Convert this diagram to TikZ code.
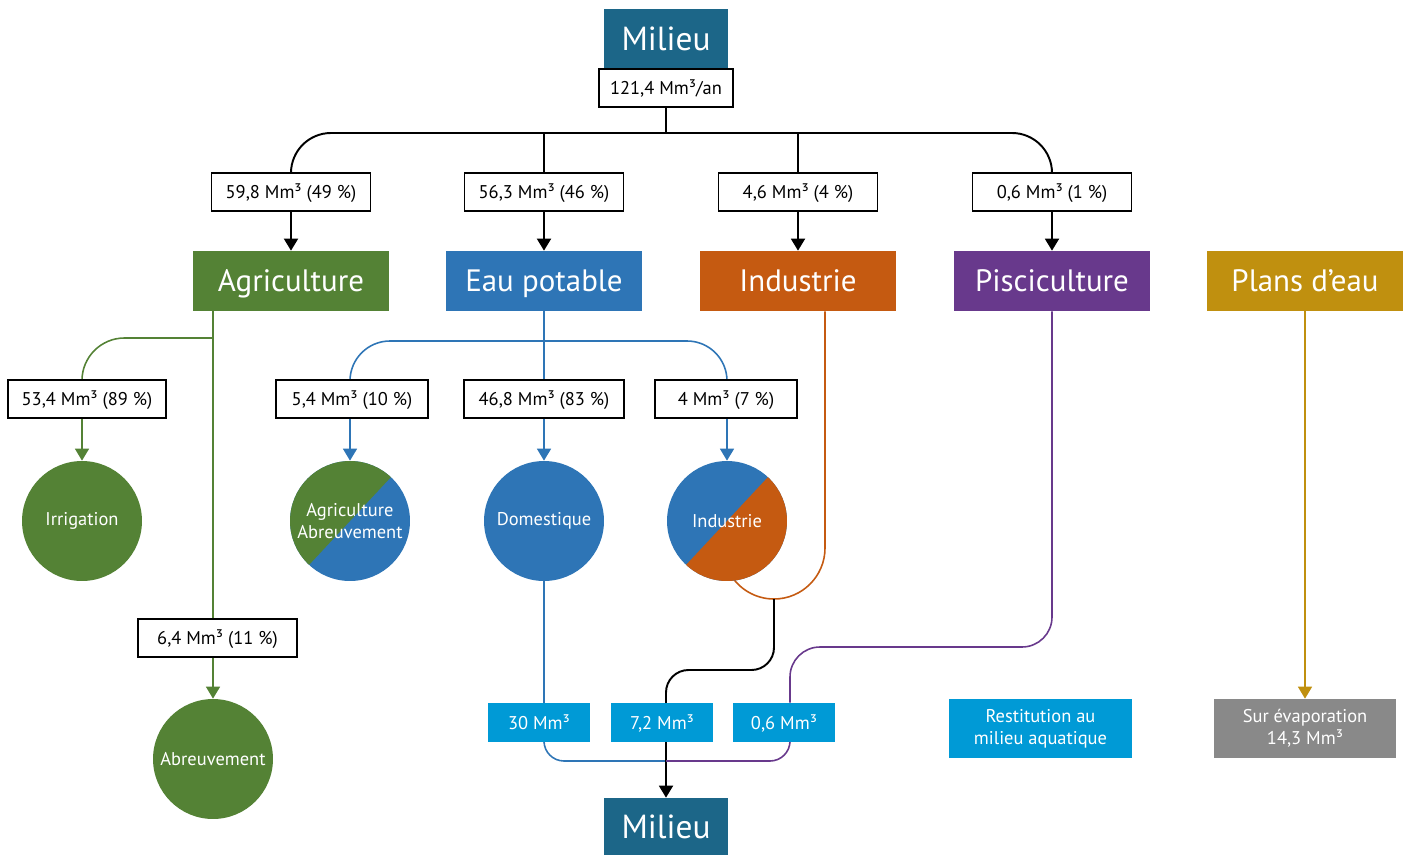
\documentclass[tikz,border=0pt]{standalone}
\usepackage{fontspec}
\setmainfont{PT Sans}
\usetikzlibrary{arrows.meta,backgrounds}
\definecolor{milieu}{HTML}{1C6688}
\definecolor{agrg}{HTML}{548235}
\definecolor{eaub}{HTML}{2E75B6}
\definecolor{indo}{HTML}{C55A11}
\definecolor{pisp}{HTML}{68398C}
\definecolor{plang}{HTML}{C0900F}
\definecolor{cyanb}{HTML}{009AD6}
\definecolor{greyb}{HTML}{898989}
\tikzset{
  lbl/.style={draw=black, line width=1.1pt, fill=white, minimum height=0.76cm, inner sep=0pt, text height=7.4pt, text depth=0pt, font=\fontsize{10.5}{12}\selectfont},
  catbox/.style={fill=#1, text=white, minimum width=3.94cm, minimum height=1.2cm, inner sep=0pt, text height=12.4pt, text depth=0pt, font=\fontsize{17.6}{20}\selectfont},
  disc/.style={circle, fill=#1, minimum size=2.4cm, inner sep=0pt, text=white, align=center, font=\fontsize{10.5}{12.5}\selectfont},
  volbox/.style={fill=cyanb, text=white, minimum width=2.04cm, minimum height=0.78cm, inner sep=0pt, text height=7.4pt, text depth=0pt, font=\fontsize{10.5}{12}\selectfont},
  infobox/.style={fill=#1, text=white, minimum width=3.66cm, minimum height=1.18cm, inner sep=0pt, align=center, font=\fontsize{10.5}{12.5}\selectfont},
  milbox/.style={fill=milieu, text=white, minimum width=2.5cm, inner sep=0pt, text height=13.3pt, text depth=0pt, font=\fontsize{19}{22}\selectfont},
  tip/.style={-{Triangle[width=0.28cm,length=0.24cm]}},
  blk/.style={draw=black, line width=1.1pt},
  col/.style={draw=#1, line width=0.9pt},
}
\begin{document}
\begin{tikzpicture}[x=0.02cm,y=-0.02cm]
\useasboundingbox (0,0) rectangle (1413,855);
% top
\node[milbox, minimum height=1.2cm] (milieuTop) at (666,39) {Milieu};
\node[lbl, minimum width=2.68cm] (total) at (666,88) {121,4 Mm³/an};
\coordinate (hub) at (666,133);
\node[lbl, minimum width=3.18cm] (l1) at (291,192) {59,8 Mm³ (49 \%)};
\node[lbl, minimum width=3.18cm] (l2) at (544,192) {56,3 Mm³ (46 \%)};
\node[lbl, minimum width=3.18cm] (l3) at (798,192) {4,6 Mm³ (4 \%)};
\node[lbl, minimum width=3.18cm] (l4) at (1052,192) {0,6 Mm³ (1 \%)};
% categories
\node[catbox=agrg] (agr) at (291,281) {Agriculture};
\node[catbox=eaub] (eau) at (544,281) {Eau potable};
\node[catbox=indo] (ind) at (798,281) {Industrie};
\node[catbox=pisp] (pis) at (1052,281) {Pisciculture};
\node[catbox=plang] (plans) at (1305,281) {Plans d’eau};
% agriculture branch
\coordinate (gj) at (213,338);
\node[lbl, minimum width=3.16cm] (la1) at (87,399) {53,4 Mm³ (89 \%)};
\node[lbl, minimum width=3.18cm] (la2) at (217.5,638) {6,4 Mm³ (11 \%)};
\node[disc=agrg] (irrig) at (82,521) {Irrigation};
\node[disc=agrg] (abreu) at (213,759) {Abreuvement};
% eau potable branch
\coordinate (bj) at (544,341);
\node[lbl, minimum width=3.04cm] (le1) at (352,399) {5,4 Mm³ (10 \%)};
\node[lbl, minimum width=3.2cm] (le2) at (544,399) {46,8 Mm³ (83 \%)};
\node[lbl, minimum width=2.84cm] (le3) at (726,399) {4 Mm³ (7 \%)};
\node[disc=eaub, path picture={\fill[agrg] (path picture bounding box.center) ++(47:1.3cm) arc[start angle=47, end angle=227, radius=1.3cm] -- cycle;}] (agriab) at (350,521) {Agriculture\\Abreuvement};
\node[disc=eaub] (domest) at (544,521) {Domestique};
\node[disc=eaub, path picture={\fill[indo] (path picture bounding box.center) ++(47:1.3cm) arc[start angle=47, end angle=-133, radius=1.3cm] -- cycle;}] (indc) at (727,521) {Industrie};
% returns
\node[volbox] (r30) at (539,722.5) {30 Mm³};
\node[volbox] (r72) at (662,722.5) {7,2 Mm³};
\node[volbox] (r06) at (784,722.5) {0,6 Mm³};
\node[milbox, minimum height=1.14cm] (milieuBot) at (666,826.5) {Milieu};
\node[infobox=cyanb] (restit) at (1040.5,728.5) {Restitution au\\milieu aquatique};
\node[infobox=greyb] (evap) at (1305,728.5) {Sur évaporation\\14,3 Mm³};
\coordinate (oc) at (825,0);
\coordinate (ob) at (774,599);
\coordinate (kj) at (666,670);
\coordinate (bb) at (666,761);
\coordinate (pc) at (790,0);
\coordinate (pk) at (790,647);
\begin{pgfonlayer}{background}
% black top tree
\draw[blk] (total.south) -- (hub);
\draw[blk, rounded corners=0.8cm] (l1.north) |- (hub) -| (l4.north);
\draw[blk] (l2.north) -- (l2.north |- hub);
\draw[blk] (l3.north) -- (l3.north |- hub);
\draw[blk, tip] (l1.south) -- (agr.north);
\draw[blk, tip] (l2.south) -- (eau.north);
\draw[blk, tip] (l3.south) -- (ind.north);
\draw[blk, tip] (l4.south) -- (pis.north);
% green
\draw[col=agrg] (agr.south -| abreu) -- (la2.north -| abreu);
\draw[col=agrg, rounded corners=0.85cm] (gj) -| (la1.north -| irrig);
\draw[col=agrg, tip] (la1.south -| irrig) -- (irrig.north);
\draw[col=agrg, tip] (la2.south -| abreu) -- (abreu.north);
% blue
\draw[col=eaub] (eau.south) -- (le2.north);
\draw[col=eaub, rounded corners=0.8cm] (le1.north -| agriab) |- (bj) -| (le3.north -| indc);
\draw[col=eaub, tip] (le1.south -| agriab) -- (agriab.north);
\draw[col=eaub, tip] (le2.south) -- (domest.north);
\draw[col=eaub, tip] (le3.south -| indc) -- (indc.north);
\draw[col=eaub] (domest.south) -- (r30.north -| domest);
\draw[col=eaub, rounded corners=0.4cm] (r30.south -| domest) |- (bb);
% orange
\draw[col=indo] (ind.south -| oc) -- (825,548) arc[start angle=0, end angle=150, radius=51];
% black return
\draw[blk, tip, rounded corners=0.45cm] (ob) |- (kj) -- (milieuBot.north);
% purple
\draw[col=pisp, rounded corners=0.6cm] (pis.south) |- (pk) -- (r06.north -| pc);
\draw[col=pisp, rounded corners=0.4cm] (r06.south -| pc) |- (bb);
% gold
\draw[col=plang, tip] (plans.south) -- (evap.north);
\end{pgfonlayer}
\end{tikzpicture}
\end{document}
